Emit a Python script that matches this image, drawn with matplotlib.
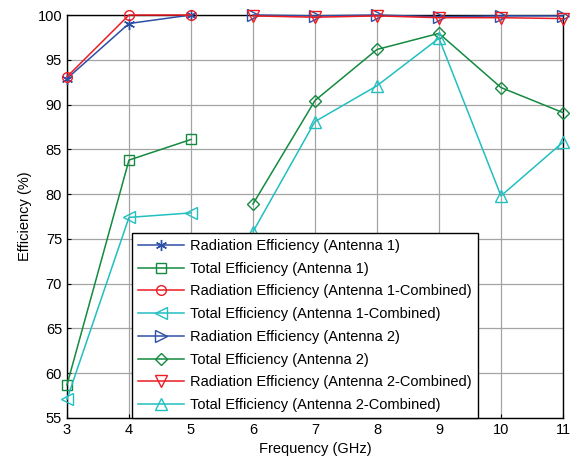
import matplotlib.pyplot as plt

plt.rcParams['font.family'] = ['Liberation Sans', 'DejaVu Sans']

freq_a1 = [3, 4, 5]
freq_a2 = [6, 7, 8, 9, 10, 11]

rad_a1 = [92.9, 99.05, 100.0]
tot_a1 = [58.7, 83.8, 86.1]
rad_a1_comb = [93.1, 100.0, 100.0]
tot_a1_comb = [57.1, 77.4, 77.9]

rad_a2 = [100.0, 99.9, 100.0, 99.8, 99.9, 99.9]
tot_a2 = [78.9, 90.45, 96.15, 97.95, 91.9, 89.1]
rad_a2_comb = [99.9, 99.75, 99.9, 99.7, 99.7, 99.6]
tot_a2_comb = [75.8, 88.1, 92.1, 97.4, 79.8, 85.8]

labels = [
    "Radiation Efficiency (Antenna 1)",
    "Total Efficiency (Antenna 1)",
    "Radiation Efficiency (Antenna 1-Combined)",
    "Total Efficiency (Antenna 1-Combined)",
    "Radiation Efficiency (Antenna 2)",
    "Total Efficiency (Antenna 2)",
    "Radiation Efficiency (Antenna 2-Combined)",
    "Total Efficiency (Antenna 2-Combined)",
]

blue = '#2d4fa6'
green = '#148a40'
red = '#ec1c24'
cyan = '#22bfc0'

# asterisk like matlab '*'
asterisk = (6, 2, 0)

series = [
    (freq_a1, rad_a1, blue, asterisk),
    (freq_a1, tot_a1, green, 's'),
    (freq_a1, rad_a1_comb, red, 'o'),
    (freq_a1, tot_a1_comb, cyan, '<'),
    (freq_a2, rad_a2, blue, '>'),
    (freq_a2, tot_a2, green, 'D'),
    (freq_a2, rad_a2_comb, red, 'v'),
    (freq_a2, tot_a2_comb, cyan, '^'),
]

fig = plt.figure(figsize=(5.74, 4.63), dpi=100)
ax = fig.add_axes([0.1167, 0.0972, 0.8641, 0.8704])

for (x, y, c, m), lab in zip(series, labels):
    if m == asterisk:
        ms = 8
    elif m in ('s', 'o'):
        ms = 7
    elif m == 'D':
        ms = 6
    else:
        ms = 8
    ax.plot(x, y, color=c, marker=m, markersize=ms, markerfacecolor='none',
            markeredgecolor=c, markeredgewidth=1.0, linewidth=1.1,
            label=lab, clip_on=False, zorder=3)

ax.set_xlim(3, 11)
ax.set_ylim(55, 100)
ax.set_xticks(range(3, 12))
ax.set_yticks(range(55, 101, 5))
ax.grid(True, color='#a4a4a4', linewidth=0.9)
ax.set_axisbelow(True)
ax.tick_params(direction='in', labelsize=10.5, length=3)
for s in ax.spines.values():
    s.set_linewidth(1.0)
ax.set_xlabel("Frequency (GHz)", fontsize=10.5)
ax.set_ylabel("Efficiency (%)", fontsize=10.5)

leg = ax.legend(loc='lower left', bbox_to_anchor=(0.131, 0.0), fontsize=10.5,
                fancybox=False, framealpha=1, edgecolor='black',
                handlelength=3.2, labelspacing=0.6, borderaxespad=0,
                handletextpad=0.4, borderpad=0.4)
leg.get_frame().set_linewidth(1.0)

fig.savefig("out.png", dpi=100)
